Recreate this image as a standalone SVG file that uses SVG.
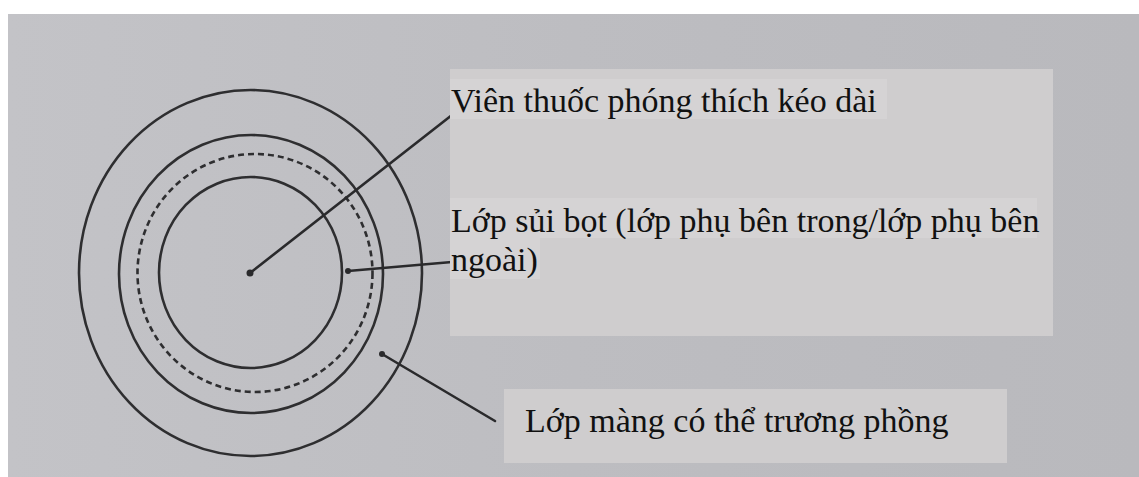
<svg xmlns="http://www.w3.org/2000/svg" width="1139" height="477" viewBox="0 0 1139 477">
  <style>
    .ring { fill: none; stroke: #2e2e30; stroke-width: 2.6; }
    .dash { stroke-dasharray: 6 4; }
    .conn { stroke: #2a2a2c; stroke-width: 2.6; stroke-linecap: round; fill: none; }
    .dot { fill: #2a2a2c; }
    .box { fill: #cfcdce; }
    .hl { fill: #d5d3d4; }
    .lbl { font-family: "Liberation Serif", "Times New Roman", serif; font-size: 34px; fill: #111; }
  </style>
  <defs>
    <linearGradient id="paper" x1="0" y1="0" x2="1" y2="0">
      <stop offset="0" stop-color="#c3c3c7"/>
      <stop offset="0.5" stop-color="#bdbdc1"/>
      <stop offset="1" stop-color="#b9b9bd"/>
    </linearGradient>
  </defs>
  <rect x="0" y="0" width="1139" height="477" fill="#ffffff"/>
  <rect x="8" y="14" width="1131" height="463" fill="url(#paper)"/>

  <g id="tablet">
    <ellipse class="ring" cx="250.5" cy="273" rx="171.5" ry="183"/>
    <ellipse class="ring" cx="251" cy="274" rx="132" ry="139"/>
    <ellipse class="ring dash" cx="255" cy="273" rx="117.5" ry="119"/>
    <ellipse class="ring" cx="250.5" cy="272.5" rx="91.5" ry="95.5"/>
  </g>

  <g id="connectors">
    <line class="conn" x1="250" y1="273" x2="452" y2="115"/>
    <circle class="dot" cx="250" cy="273" r="3.5"/>
    <line class="conn" x1="348" y1="271" x2="452" y2="262"/>
    <circle class="dot" cx="348" cy="271" r="3"/>
    <line class="conn" x1="382" y1="354" x2="495" y2="421"/>
    <circle class="dot" cx="382" cy="354" r="3"/>
  </g>

  <g id="label-main">
    <rect class="box" x="450" y="69" width="603" height="267"/>
    <g id="label-tablet">
      <rect class="hl" x="450" y="79" width="437" height="40"/>
      <text class="lbl" x="451" y="112">Viên thuốc phóng thích kéo dài</text>
    </g>
    <g id="label-effervescent">
      <rect class="hl" x="450" y="198" width="587" height="40"/>
      <rect class="hl" x="450" y="238" width="90" height="41"/>
      <text class="lbl" x="451" y="232">Lớp sủi bọt (lớp phụ bên trong/lớp phụ bên</text>
      <text class="lbl" x="451" y="271">ngoài)</text>
    </g>
  </g>

  <g id="label-membrane">
    <rect class="box" x="504" y="389" width="503" height="74"/>
    <text class="lbl" x="525" y="432">Lớp màng có thể trương phồng</text>
  </g>
</svg>
